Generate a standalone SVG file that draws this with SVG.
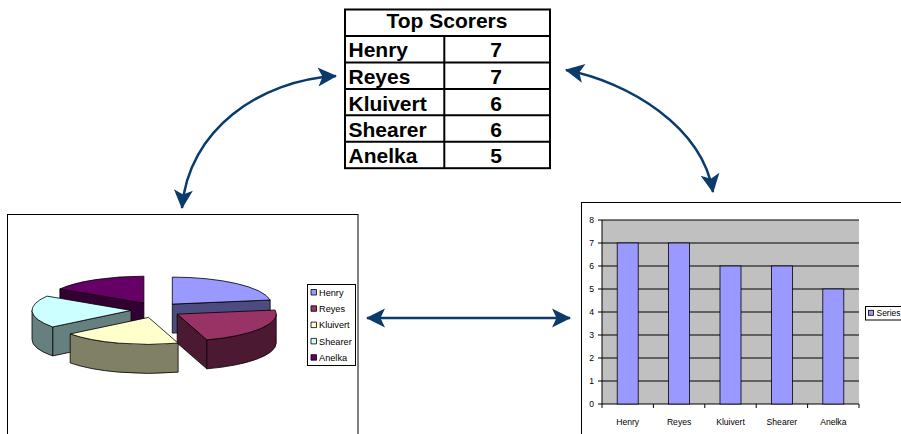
<svg xmlns="http://www.w3.org/2000/svg" width="901" height="434" viewBox="0 0 901 434">
  <style>
    .frame { fill: #ffffff; stroke: #000000; stroke-width: 1; }
    .cell { fill: none; stroke: #000000; stroke-width: 2; }
    .tbl { font-family: "Liberation Sans", Arial, sans-serif; font-weight: bold; font-size: 21px; fill: #000000; }
    .slice { stroke: #000000; stroke-width: 0.8; stroke-linejoin: round; }
    .lg { font-family: "Liberation Sans", Arial, sans-serif; font-size: 9.2px; fill: #000000; }
    .ax { font-family: "Liberation Sans", Arial, sans-serif; font-size: 8.6px; fill: #000000; }
    .grid { stroke: #000000; stroke-width: 1; }
    .bar { fill: #9999FF; stroke: #000000; stroke-width: 0.8; }
    .link { fill: none; stroke: #0B3B6B; stroke-width: 2.5; }
  </style>
  <defs>
    <marker id="head" markerUnits="userSpaceOnUse" markerWidth="22" markerHeight="22" viewBox="-20 -11 22 22" refX="0" refY="0" orient="auto-start-reverse">
      <path d="M1,0 L-18,-9.5 L-13.5,0 L-18,9.5 Z" fill="#0B3B6B"/>
    </marker>
  </defs>

  <!-- Score table -->
  <g id="table">
    <rect x="345" y="9.5" width="205" height="158.7" fill="#ffffff" class="cell"/>
    <line class="cell" x1="345" y1="36" x2="550" y2="36"/>
    <line class="cell" x1="345" y1="62.4" x2="550" y2="62.4"/>
    <line class="cell" x1="345" y1="88.9" x2="550" y2="88.9"/>
    <line class="cell" x1="345" y1="115.3" x2="550" y2="115.3"/>
    <line class="cell" x1="345" y1="141.8" x2="550" y2="141.8"/>
    <line class="cell" x1="444.3" y1="36" x2="444.3" y2="168.2"/>
    <text class="tbl" x="447" y="28.3" text-anchor="middle" font-size="20.5">Top Scorers</text>
    <text class="tbl" x="348.5" y="57.3">Henry</text>
    <text class="tbl" x="496" y="57.3" text-anchor="middle">7</text>
    <text class="tbl" x="348.5" y="84">Reyes</text>
    <text class="tbl" x="496" y="84" text-anchor="middle">7</text>
    <text class="tbl" x="348.5" y="110.7">Kluivert</text>
    <text class="tbl" x="496" y="110.7" text-anchor="middle">6</text>
    <text class="tbl" x="348.5" y="137.3">Shearer</text>
    <text class="tbl" x="496" y="137.3" text-anchor="middle">6</text>
    <text class="tbl" x="348.5" y="163.3">Anelka</text>
    <text class="tbl" x="496" y="163.3" text-anchor="middle">5</text>
  </g>

  <!-- Exploded 3D pie chart -->
  <g id="pie-chart">
    <rect class="frame" x="7.5" y="214.5" width="350.5" height="230"/>
    <!-- Anelka -->
    <path class="slice" fill="#330033" d="M143.9,303.2 L59.88,288.92 L59.88,317.92 L143.9,332.2 Z"/>
    <path class="slice" fill="#660066" d="M143.9,303.2 L59.88,288.92 A99,27 0 0 1 143.9,276.2 Z"/>
    <!-- Henry -->
    <path class="slice" fill="#4C4C80" d="M172.3,304.1 L270.16,300.01 L270.16,329.01 L172.3,333.1 Z"/>
    <path class="slice" fill="#9999FF" d="M172.3,304.1 L172.3,277.1 A99,27 0 0 1 270.16,300.01 Z"/>
    <!-- Shearer -->
    <path class="slice" fill="#668080" d="M131,310.4 L52.69,326.92 L52.69,355.92 L131,339.4 Z"/>
    <path class="slice" fill="#668080" d="M52.69,326.92 A99,27 0 0 1 32,310.4 L32,339.4 A99,27 0 0 0 52.69,355.92 Z"/>
    <path class="slice" fill="#CCFFFF" d="M131,310.4 L52.69,326.92 A99,27 0 0 1 46.98,296.12 Z"/>
    <!-- Reyes -->
    <path class="slice" fill="#4C1933" d="M177.2,314.1 L206.84,339.86 L206.84,368.86 L177.2,343.1 Z"/>
    <path class="slice" fill="#4C1933" d="M276.2,314.1 A99,27 0 0 1 206.84,339.86 L206.84,368.86 A99,27 0 0 0 276.2,343.1 Z"/>
    <path class="slice" fill="#993366" d="M177.2,314.1 L275.06,310.01 A99,27 0 0 1 206.84,339.86 Z"/>
    <!-- Kluivert -->
    <path class="slice" fill="#808066" d="M178.14,343.16 A99,27 0 0 1 70.19,333.92 L70.19,362.92 A99,27 0 0 0 178.14,372.16 Z"/>
    <path class="slice" fill="#FFFFCC" d="M148.5,317.4 L178.14,343.16 A99,27 0 0 1 70.19,333.92 Z"/>
  </g>

  <g id="pie-legend">
    <rect class="frame" x="307.5" y="284.5" width="48" height="81"/>
    <rect class="slice" x="311" y="289.5" width="5.5" height="5.5" fill="#9999FF"/>
    <text class="lg" x="319" y="295.6">Henry</text>
    <rect class="slice" x="311" y="305.8" width="5.5" height="5.5" fill="#993366"/>
    <text class="lg" x="319" y="311.9">Reyes</text>
    <rect class="slice" x="311" y="322.1" width="5.5" height="5.5" fill="#FFFFCC"/>
    <text class="lg" x="319" y="328.2">Kluivert</text>
    <rect class="slice" x="311" y="338.4" width="5.5" height="5.5" fill="#CCFFFF"/>
    <text class="lg" x="319" y="344.5">Shearer</text>
    <rect class="slice" x="311" y="354.7" width="5.5" height="5.5" fill="#660066"/>
    <text class="lg" x="319" y="360.8">Anelka</text>
  </g>

  <!-- Column chart -->
  <g id="bar-chart">
    <rect class="frame" x="581.5" y="202.5" width="340" height="240"/>
    <rect x="602" y="220" width="257" height="184" fill="#C0C0C0"/>
    <g class="grid">
      <line x1="598" y1="220" x2="859" y2="220"/>
      <line x1="598" y1="243" x2="859" y2="243"/>
      <line x1="598" y1="266" x2="859" y2="266"/>
      <line x1="598" y1="289" x2="859" y2="289"/>
      <line x1="598" y1="312" x2="859" y2="312"/>
      <line x1="598" y1="335" x2="859" y2="335"/>
      <line x1="598" y1="358" x2="859" y2="358"/>
      <line x1="598" y1="381" x2="859" y2="381"/>
      <line x1="598" y1="404" x2="859" y2="404"/>
      <line x1="602" y1="220" x2="602" y2="408"/>
      <line x1="653.4" y1="404" x2="653.4" y2="408"/>
      <line x1="704.8" y1="404" x2="704.8" y2="408"/>
      <line x1="756.2" y1="404" x2="756.2" y2="408"/>
      <line x1="807.6" y1="404" x2="807.6" y2="408"/>
      <line x1="859" y1="404" x2="859" y2="408"/>
    </g>
    <rect class="bar" x="617.2" y="243" width="21" height="161"/>
    <rect class="bar" x="668.6" y="243" width="21" height="161"/>
    <rect class="bar" x="720" y="266" width="21" height="138"/>
    <rect class="bar" x="771.4" y="266" width="21" height="138"/>
    <rect class="bar" x="822.8" y="289" width="21" height="115"/>
    <g class="ax" text-anchor="end">
      <text x="594" y="223">8</text>
      <text x="594" y="246">7</text>
      <text x="594" y="269">6</text>
      <text x="594" y="292">5</text>
      <text x="594" y="315">4</text>
      <text x="594" y="338">3</text>
      <text x="594" y="361">2</text>
      <text x="594" y="384">1</text>
      <text x="594" y="407">0</text>
    </g>
    <g class="ax" text-anchor="middle">
      <text x="627.7" y="424.8">Henry</text>
      <text x="679.1" y="424.8">Reyes</text>
      <text x="730.5" y="424.8">Kluivert</text>
      <text x="781.9" y="424.8">Shearer</text>
      <text x="833.3" y="424.8">Anelka</text>
    </g>
  </g>

  <g id="bar-legend">
    <rect class="frame" x="865.5" y="306.5" width="50" height="13.5"/>
    <rect class="bar" x="868.5" y="310.3" width="5" height="5"/>
    <text class="lg" x="876.5" y="316" textLength="24" lengthAdjust="spacingAndGlyphs">Series</text>
  </g>

  <!-- Two-way connectors -->
  <g id="connectors">
    <path class="link" d="M336,76 C260,80 188,130 182,208" marker-start="url(#head)" marker-end="url(#head)"/>
    <path class="link" d="M566,70 C628,82 702,126 713,192" marker-start="url(#head)" marker-end="url(#head)"/>
    <path class="link" d="M367,318 L570,318" marker-start="url(#head)" marker-end="url(#head)"/>
  </g>
</svg>
